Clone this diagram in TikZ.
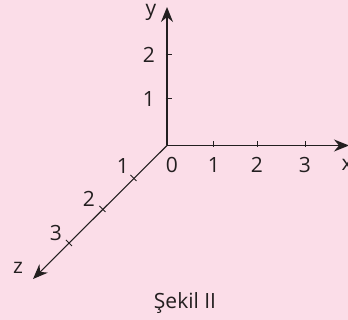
\documentclass[tikz,border=0pt]{standalone}
\usepackage{fontspec}
\setmainfont{Open Sans}
\usetikzlibrary{arrows.meta,calc}
\definecolor{bgpink}{HTML}{FBDDE8}
\definecolor{ink}{HTML}{231F20}
\tikzset{
  axis/.style={draw=ink, line width=1.4pt, -{Stealth[length=15pt,width=12pt,inset=5pt]}},
  tickmark/.style={draw=ink, line width=1pt},
  lbl/.style={text=ink, font=\fontsize{21}{21}\selectfont, inner sep=0pt},
}
\begin{document}
\begin{tikzpicture}[x=1pt,y=-1pt]
\fill[bgpink] (0,0) rectangle (348,320);
\useasboundingbox (0,0) rectangle (348,320);
\coordinate (O) at (167,145.5);
\coordinate (X) at (349,145.5);
\coordinate (Y) at (167,7);
\coordinate (Z) at (33,279);
\draw[axis] (O) -- (X);
\draw[axis] (O) -- (Y);
\draw[axis, line width=1.1pt] (O) -- (Z);
% x ticks
\foreach \n/\xx in {1/213,2/257,3/305}{
  \coordinate (xt\n) at (\xx,145.5);
  \draw[tickmark] ($(xt\n)+(0,1.5)$) -- ++(0,-6);
}
% y ticks
\foreach \n/\yy in {1/99,2/55}{
  \coordinate (yt\n) at (167,\yy);
  \draw[tickmark] ($(yt\n)+(-1.5,0)$) -- ++(6,0);
}
% z ticks
\foreach \n/\zx/\zy in {1/133.5/178,2/102.5/209,3/69/243}{
  \coordinate (zt\n) at (\zx,\zy);
  \draw[tickmark] ($(zt\n)+(-3,-3)$) -- ($(zt\n)+(3,3)$);
}
\node[lbl] (lx0) at (172,165) {0};
\node[lbl] (lx1) at (214,165) {1};
\node[lbl] (lx2) at (257,165) {2};
\node[lbl] (lx3) at (305,165) {3};
\node[lbl] (lx) at (347,165) {x};
\node[lbl] (ly1) at (149,99) {1};
\node[lbl] (ly2) at (149,55) {2};
\node[lbl] (ly) at (151,12) {y};
\node[lbl] (lz1) at (123,166) {1};
\node[lbl] (lz2) at (89,199) {2};
\node[lbl] (lz3) at (56,233) {3};
\node[lbl] (lz) at (18,268) {z};
\node[lbl] (cap) at (185,303) {Şekil II};
\end{tikzpicture}
\end{document}
